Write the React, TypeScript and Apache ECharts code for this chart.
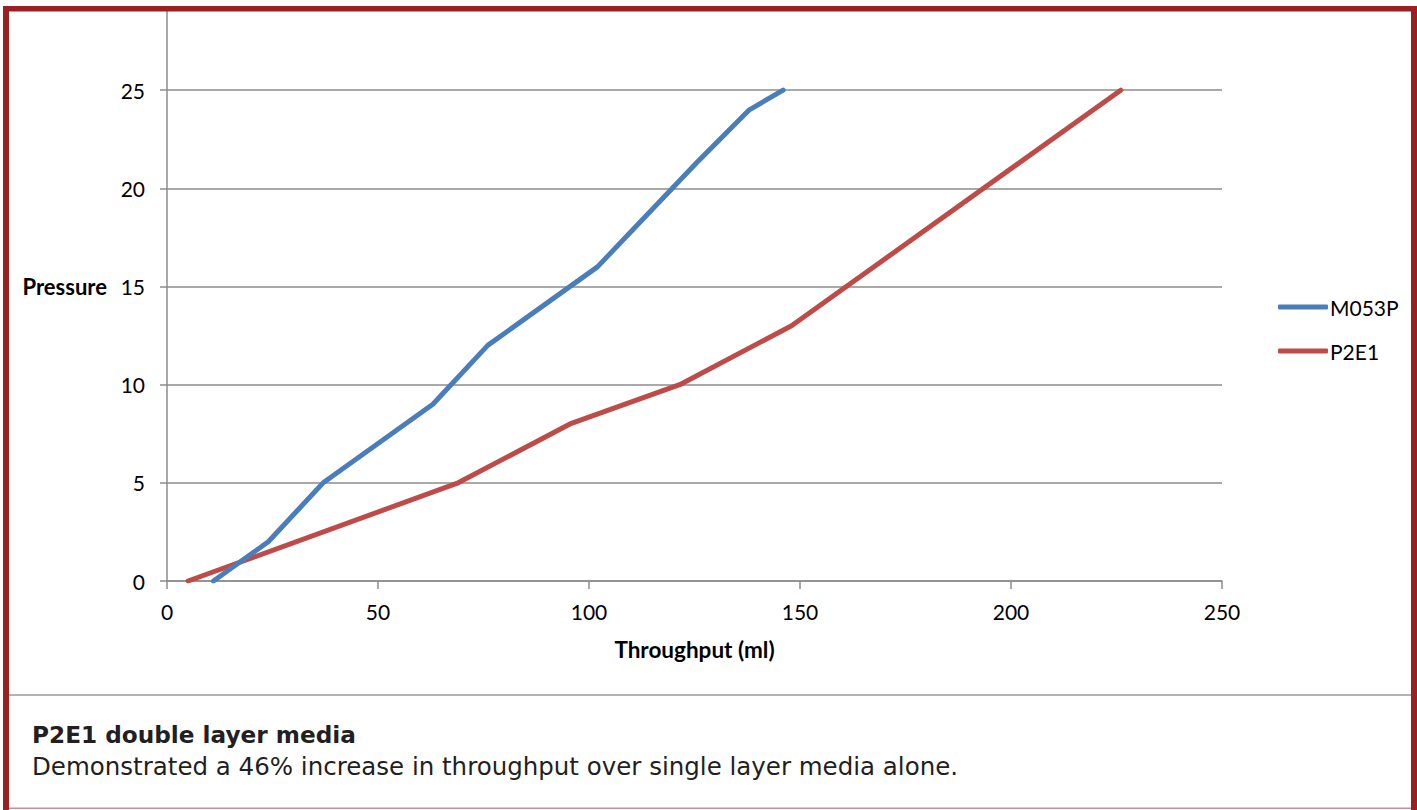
import React, { useEffect, useRef } from "react";
import * as echarts from "echarts";

const m053pX = [11, 24, 37, 63, 76, 102, 125.5, 138, 146];
const m053pY = [0, 2, 5, 9, 12, 16, 21.3, 24, 25];
const p2e1X = [5, 69, 95.5, 121.5, 148, 226];
const p2e1Y = [0, 5, 8, 10, 13, 25];
const seriesNames = ["M053P", "P2E1"];
const xTitle = "Throughput (ml)";
const yTitle = "Pressure";
const footerTitle = "P2E1 double layer media";
const footerText = "Demonstrated a 46% increase in throughput over single layer media alone.";

const pairs = (xs: number[], ys: number[]) => xs.map((x, i) => [x, ys[i]]);

// the chart canvas starts OFF pixels above the page so that the top of the value range is cropped
const OFF = 20;

export default function App() {
  const ref = useRef<HTMLDivElement>(null);
  useEffect(() => {
    if (!ref.current) return;
    const chart = echarts.init(ref.current, undefined, { renderer: "svg" });
    const border = "#9c1f24";
    const grayLine = "#8c8c8c";
    const chartFont = "Lato";
    const Y = (v: number) => v + OFF;
    chart.setOption({
      animation: false,
      backgroundColor: "#ffffff",
      grid: { left: 167, right: 195, top: Y(-8), bottom: 229 },
      legend: {
        orient: "vertical",
        left: 1273,
        top: Y(291),
        itemWidth: 50,
        itemHeight: 5,
        itemGap: 22,
        icon: "roundRect",
        textStyle: { fontFamily: chartFont, fontSize: 21, color: "#000", padding: [0, 0, 0, -3], lineHeight: 22 },
        data: seriesNames,
      },
      xAxis: {
        type: "value",
        min: 0,
        max: 250,
        interval: 50,
        name: xTitle,
        nameLocation: "middle",
        nameGap: 57,
        nameTextStyle: { fontFamily: chartFont, fontSize: 22.5, fontWeight: "bold", color: "#000" },
        axisLine: { show: true, lineStyle: { color: grayLine, width: 1.5 } },
        axisTick: { show: true, length: 8, lineStyle: { color: grayLine, width: 1.5 } },
        axisLabel: { fontFamily: chartFont, fontSize: 21, color: "#000", margin: 20 },
        splitLine: { show: false },
      },
      yAxis: {
        type: "value",
        min: 0,
        max: 30,
        interval: 5,
        name: yTitle,
        nameLocation: "middle",
        nameRotate: 0,
        nameGap: 60,
        nameTextStyle: { fontFamily: chartFont, fontSize: 22, fontWeight: "bold", color: "#000" },
        axisLine: { show: true, lineStyle: { color: grayLine, width: 1.5 } },
        axisTick: { show: true, length: 7, lineStyle: { color: grayLine, width: 1.5 } },
        axisLabel: {
          fontFamily: chartFont,
          fontSize: 21,
          color: "#000",
          margin: 22,
          formatter: (v: number) => (v >= 30 ? "" : String(v)),
        },
        splitLine: { show: true, lineStyle: { color: grayLine, width: 1.5 } },
      },
      series: [
        {
          name: seriesNames[0],
          type: "line",
          data: pairs(m053pX, m053pY),
          symbol: "none",
          lineStyle: { color: "#4a7ebb", width: 5, cap: "round", join: "round" },
          itemStyle: { color: "#4a7ebb" },
          z: 3,
        },
        {
          name: seriesNames[1],
          type: "line",
          data: pairs(p2e1X, p2e1Y),
          symbol: "none",
          lineStyle: { color: "#be4b48", width: 5, cap: "round", join: "round" },
          itemStyle: { color: "#be4b48" },
          z: 2,
        },
      ],
      graphic: [
        { type: "rect", z: 100, shape: { x: 0, y: 0, width: 1417, height: Y(6) }, style: { fill: "#ffffff" } },
        { type: "rect", z: 100, shape: { x: 9, y: Y(683), width: 1402, height: 125 }, style: { fill: "#ffffff" } },
        { type: "line", z: 101, shape: { x1: 9, y1: Y(695), x2: 1411, y2: Y(695) }, style: { stroke: "#9a9a9a", lineWidth: 1.5 } },
        { type: "rect", z: 102, shape: { x: 3, y: Y(6), width: 1414, height: 5.5 }, style: { fill: border } },
        { type: "rect", z: 102, shape: { x: 3, y: Y(6), width: 6, height: 804 }, style: { fill: border } },
        { type: "rect", z: 102, shape: { x: 1411, y: Y(6), width: 6, height: 804 }, style: { fill: border } },
        { type: "rect", z: 102, shape: { x: 9, y: Y(807.5), width: 1402, height: 1.5 }, style: { fill: "#c98f92" } },
        {
          type: "text",
          z: 103,
          left: 32,
          top: Y(723),
          style: {
            text: footerTitle,
            fontFamily: "DejaVu Sans",
            fontWeight: "bold",
            fontSize: 23.2,
            fill: "#231f20",
          },
        },
        {
          type: "text",
          z: 103,
          left: 32,
          top: Y(754),
          style: {
            text: footerText,
            fontFamily: "DejaVu Sans",
            fontSize: 24.5,
            fill: "#231f20",
          },
        },
      ],
    });
    return () => chart.dispose();
  }, []);
  return (
    <div
      ref={ref}
      style={{ position: "fixed", left: 0, top: -OFF, width: 1417, height: 810 + OFF }}
    />
  );
}
